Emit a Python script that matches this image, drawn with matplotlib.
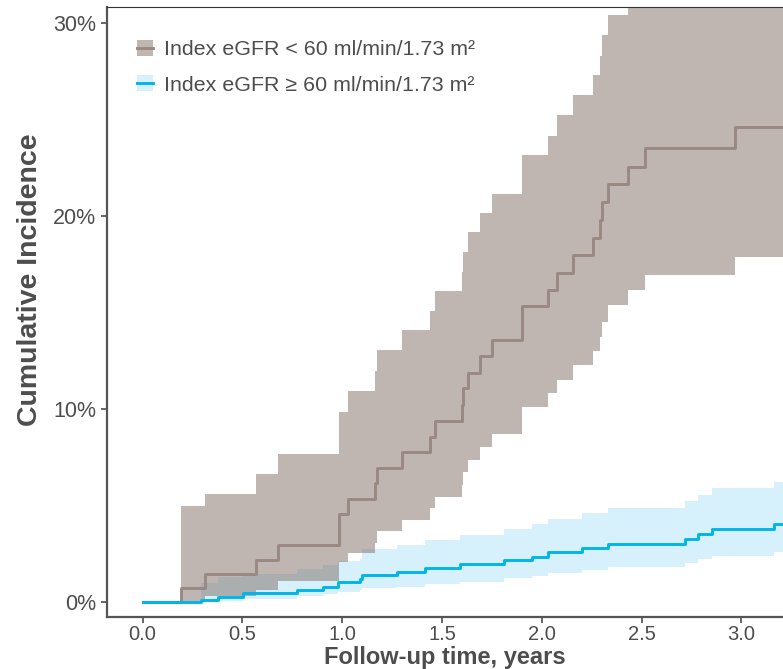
import matplotlib
matplotlib.use('Agg')
import matplotlib.pyplot as plt
from matplotlib.patches import Patch
from matplotlib.lines import Line2D

plt.rcParams['font.family'] = ['Liberation Sans', 'DejaVu Sans']

# eGFR < 60 : event times (years), cumulative incidence and 95% CI (%)
t_low = [0.0, 0.19, 0.31, 0.566, 0.678, 0.985, 1.03, 1.164, 1.172, 1.299, 1.44, 1.464,
         1.598, 1.606, 1.631, 1.69, 1.748, 1.899, 2.032, 2.074, 2.157, 2.258, 2.291,
         2.30, 2.333, 2.433, 2.517, 2.967, 3.3]
ci_low = [0.0, 0.71, 1.43, 2.16, 2.95, 4.54, 5.34, 6.15, 6.93, 7.76, 8.57, 9.4,
          10.2, 11.07, 11.88, 12.75, 13.58, 15.34, 16.17, 17.06, 17.98, 18.84, 19.79,
          20.74, 21.66, 22.55, 23.54, 24.63, 24.63]
upper_low = [0.0, 4.99, 5.6, 6.62, 7.68, 9.86, 10.93, 11.98, 13.06, 14.09, 15.09, 16.1,
             17.11, 18.12, 19.15, 20.17, 21.14, 23.16, 24.16, 25.23, 26.27, 27.3, 28.3,
             29.4, 30.4, 31.4, 32.3, 33.3, 33.3]
lower_low = [0.0, 0.0, 0.3, 0.6, 1.1, 2.09, 2.56, 3.07, 3.68, 4.25, 4.85, 5.46,
             6.06, 6.75, 7.36, 8.05, 8.7, 10.09, 10.81, 11.5, 12.28, 13.02, 13.75,
             14.52, 15.39, 16.17, 16.94, 17.86, 17.86]

# eGFR >= 60
t_high = [0.0, 0.292, 0.379, 0.504, 0.771, 0.902, 0.977, 1.089, 1.10, 1.272, 1.414,
          1.59, 1.81, 1.949, 2.032, 2.203, 2.333, 2.717, 2.784, 2.854, 3.165, 3.3]
ci_high = [0.0, 0.12, 0.28, 0.45, 0.62, 0.79, 1.02, 1.19, 1.40, 1.57, 1.78,
           1.95, 2.18, 2.35, 2.57, 2.78, 3.0, 3.26, 3.51, 3.77, 4.04, 4.04]
upper_high = [0.0, 1.0, 1.3, 1.45, 1.7, 1.9, 2.1, 2.22, 2.75, 2.95, 3.21,
              3.47, 3.77, 4.02, 4.28, 4.59, 4.89, 5.23, 5.54, 5.89, 6.23, 6.23]
lower_high = [0.0, 0.0, 0.05, 0.15, 0.3, 0.4, 0.5, 0.6, 0.71, 0.79, 0.93,
              1.05, 1.23, 1.35, 1.52, 1.66, 1.83, 2.0, 2.21, 2.38, 2.57, 2.57]

x_ticks = [0.0, 0.5, 1.0, 1.5, 2.0, 2.5, 3.0]
y_ticks = [0, 10, 20, 30]
labels = ['Index eGFR < 60 ml/min/1.73 m²', 'Index eGFR ≥ 60 ml/min/1.73 m²']

brown_line = '#9A8882'
brown_fill = '#816D65'
blue_line = '#00B5EA'
blue_fill = '#D6F1FB'
grey_txt = '#4D4D4D'

fig = plt.figure(figsize=(7.83, 6.69), dpi=100)
ax = fig.add_axes([0.1363, 0.0777, 0.8637, 0.9118])

ax.fill_between(t_high, lower_high, upper_high, step='post', color=blue_fill, lw=0)
ax.fill_between(t_low, lower_low, upper_low, step='post', color=brown_fill, alpha=0.5, lw=0)
ax.step(t_low, ci_low, where='post', color=brown_line, lw=2.1)
ax.step(t_high, ci_high, where='post', color=blue_line, lw=2.1)

ax.set_xlim(-0.18, 3.208)
ax.set_ylim(-0.78, 30.83)
ax.set_xticks(x_ticks)
ax.set_xticklabels([f'{v:.1f}' for v in x_ticks])
ax.set_yticks(y_ticks)
ax.set_yticklabels([f'{v}%' for v in y_ticks])
ax.tick_params(colors='#4D4D4D', labelcolor=grey_txt, length=4, width=1.2)
ax.tick_params(axis='x', labelsize=14.5, pad=2)
ax.tick_params(axis='y', labelsize=15.5)

for side in ['left', 'bottom']:
    ax.spines[side].set_color('#555555')
    ax.spines[side].set_linewidth(1.6)
ax.spines['right'].set_visible(False)
ax.spines['top'].set_color('#333333')
ax.spines['top'].set_linewidth(0.8)

ax.set_xlabel('Follow-up time, years', fontsize=17, fontweight='bold', color=grey_txt)
ax.set_ylabel('Cumulative Incidence', fontsize=20.5, fontweight='bold', color=grey_txt)
ax.xaxis.set_label_coords(0.5, -0.0665)
ax.xaxis.label.set_verticalalignment('center')
ax.yaxis.set_label_coords(-0.1134, 0.5525)
ax.yaxis.label.set_verticalalignment('center')

h1 = (Patch(facecolor=brown_fill, alpha=0.5, lw=0), Line2D([], [], color=brown_line, lw=2.1))
h2 = (Patch(facecolor=blue_fill, lw=0), Line2D([], [], color=blue_line, lw=2.1))
leg = ax.legend([h1, h2], labels, loc='upper left', bbox_to_anchor=(137 / 783, 1 - 40 / 669),
                bbox_transform=fig.transFigure, frameon=False, fontsize=15.4,
                handlelength=0.75, handleheight=0.75, handletextpad=0.5,
                labelspacing=0.75, borderpad=0, borderaxespad=0)
for txt in leg.get_texts():
    txt.set_color(grey_txt)

fig.savefig('out.png', dpi=100)
